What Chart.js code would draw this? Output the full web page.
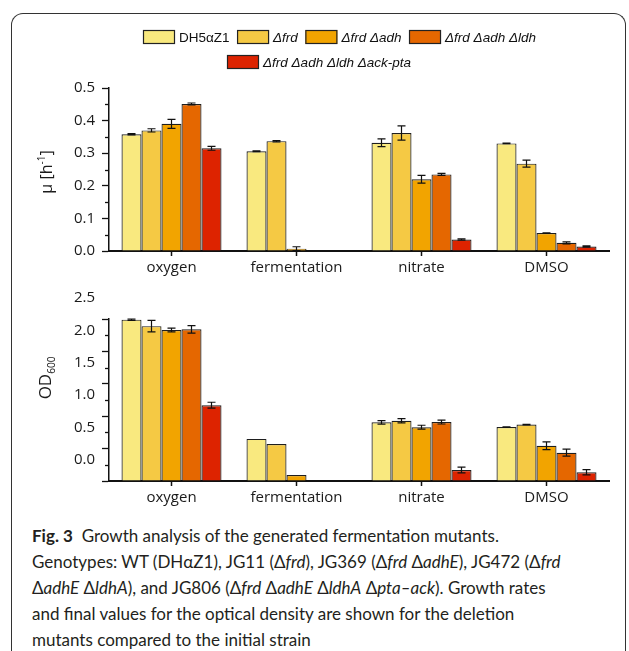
<!DOCTYPE html>
<html><head><meta charset="utf-8">
<script src="https://cdn.jsdelivr.net/npm/chart.js@4.4.0/dist/chart.umd.min.js"></script>
<style>
html,body{margin:0;padding:0;background:#fff;}
body{width:629px;height:651px;position:relative;overflow:hidden;}
#frame{position:absolute;left:11px;top:13px;width:613px;height:700px;border:1.3px solid #333;border-bottom:none;border-radius:12px 12px 0 0;}
#c1{position:absolute;left:0;top:0;}
#c2{position:absolute;left:0;top:285px;}
#caption{position:absolute;left:32px;top:523px;font-family:Lato,sans-serif;font-size:17px;line-height:26px;color:#231f20;white-space:nowrap;}
#caption b{font-weight:bold;}
</style></head>
<body>
<div id="frame"></div>
<canvas id="c1" width="629" height="285"></canvas>
<canvas id="c2" width="629" height="230"></canvas>
<div id="caption"><b>Fig. 3</b>&nbsp; Growth analysis of the generated fermentation mutants.<br>Genotypes: WT (DHαZ1), JG11 (Δ<i>frd</i>), JG369 (Δ<i>frd</i> Δ<i>adhE</i>), JG472 (Δ<i>frd</i><br>Δ<i>adhE</i> Δ<i>ldhA</i>), and JG806 (Δ<i>frd</i> Δ<i>adhE</i> Δ<i>ldhA</i> Δ<i>pta–ack</i>). Growth rates<br>and final values for the optical density are shown for the deletion<br>mutants compared to the initial strain</div>
<script>
// ---- data ----
const categories = ['oxygen', 'fermentation', 'nitrate', 'DMSO'];
const strains = ['DH5αZ1', 'Δfrd', 'Δfrd Δadh', 'Δfrd Δadh Δldh', 'Δfrd Δadh Δldh Δack-pta'];
const strainColors = ['#F9E97F', '#F5C944', '#F2A400', '#E56700', '#DD2300'];

// growth rate mu [h-1]
const muWT   = [0.358, 0.306, 0.332, 0.330];
const muFrd  = [0.370, 0.337, 0.362, 0.268];
const muAdh  = [0.390, 0.007, 0.220, 0.055];
const muLdh  = [0.451, null,  0.235, 0.025];
const muAck  = [0.315, null,  0.035, 0.014];
const muWTErr  = [0.002, 0.001, 0.012, 0.001];
const muFrdErr = [0.005, 0.002, 0.022, 0.011];
const muAdhErr = [0.014, 0.006, 0.012, 0.001];
const muLdhErr = [0.003, null,  0.003, 0.003];
const muAckErr = [0.006, null,  0.002, 0.002];

// final OD600
const odWT   = [2.49, 0.65, 0.905, 0.833];
const odFrd  = [2.39, 0.57, 0.93,  0.87];
const odAdh  = [2.33, 0.093, 0.83, 0.545];
const odLdh  = [2.34, null, 0.91,  0.437];
const odAck  = [1.17, null, 0.17,  0.134];
const odWTErr  = [0.01, 0, 0.028, 0.004];
const odFrdErr = [0.09, 0, 0.033, 0.004];
const odAdhErr = [0.03, 0, 0.03,  0.06];
const odLdhErr = [0.057, null, 0.03, 0.054];
const odAckErr = [0.045, null, 0.044, 0.04];

// axis ticks
const muTicks = [0.0, 0.1, 0.2, 0.3, 0.4, 0.5];
const muTickLabels = ['0.0', '0.1', '0.2', '0.3', '0.4', '0.5'];
const muMinorTicks = [0.05, 0.15, 0.25, 0.35, 0.45];
const odTicks = [0.0, 0.5, 1.0, 1.5, 2.0, 2.5];
const odTickLabels = ['0.0', '0.5', '1.0', '1.5', '2.0', '2.5'];
const odMinorTicks = [0.25, 0.75, 1.25, 1.75, 2.25];

// ---- plugins ----
const errorBarPlugin = {
  id: 'errorBars',
  afterDatasetsDraw(chart) {
    const ctx = chart.ctx, ys = chart.scales.y;
    ctx.save();
    ctx.strokeStyle = '#111';
    ctx.lineWidth = 1.2;
    chart.data.datasets.forEach((ds, i) => {
      const meta = chart.getDatasetMeta(i);
      meta.data.forEach((el, j) => {
        const v = ds.data[j], e = ds.errors[j];
        if (v == null || !e) return;
        const x = el.x;
        const yt = ys.getPixelForValue(v + e), yb = ys.getPixelForValue(v - e);
        ctx.beginPath();
        ctx.moveTo(x, yt); ctx.lineTo(x, yb);
        ctx.moveTo(x - 4, yt); ctx.lineTo(x + 4, yt);
        ctx.moveTo(x - 4, yb); ctx.lineTo(x + 4, yb);
        ctx.stroke();
      });
    });
    ctx.restore();
  }
};
function minorTickPlugin(minors) {
  return {
    id: 'minorTicks',
    afterDraw(chart) {
      const ctx = chart.ctx, ys = chart.scales.y, x0 = chart.chartArea.left;
      ctx.save();
      ctx.strokeStyle = '#111';
      ctx.lineWidth = 1.3;
      minors.forEach(v => {
        const y = Math.round(ys.getPixelForValue(v)) + 0.5;
        ctx.beginPath(); ctx.moveTo(x0 - 4, y); ctx.lineTo(x0, y); ctx.stroke();
      });
      ctx.restore();
    }
  };
}
function titlePlugin(parts, cx, cy) {
  return {
    id: 'yTitle',
    afterDraw(chart) {
      const ctx = chart.ctx;
      ctx.save();
      ctx.translate(cx, cy);
      ctx.rotate(-Math.PI / 2);
      ctx.fillStyle = '#1a1a1a';
      ctx.textBaseline = 'alphabetic';
      let total = 0;
      parts.forEach(p => { ctx.font = p.size + 'px "Open Sans"'; p.w = ctx.measureText(p.t).width; total += p.w; });
      let x = -total / 2;
      parts.forEach(p => {
        ctx.font = p.size + 'px "Open Sans"';
        ctx.fillText(p.t, x, 6 + (p.dy || 0));
        x += p.w;
      });
      ctx.restore();
    }
  };
}
const legendPlugin = {
  id: 'customLegend',
  afterDraw(chart) {
    const ctx = chart.ctx;
    const rows = [{ y: 37, x: 143, items: [0, 1, 2, 3] }, { y: 62, x: 227, items: [4] }];
    ctx.save();
    ctx.textBaseline = 'middle';
    rows.forEach(r => {
      let x = r.x;
      r.items.forEach(i => {
        const ds = chart.data.datasets[i];
        ctx.fillStyle = ds.backgroundColor;
        ctx.fillRect(x, r.y - 7, 32, 14);
        ctx.strokeStyle = '#222';
        ctx.lineWidth = 1.2;
        ctx.strokeRect(x + 0.5, r.y - 7 + 0.5, 31, 13);
        x += 36;
        ctx.font = (i === 0 ? '' : 'italic ') + '13.5px "Liberation Sans"';
        ctx.fillStyle = '#111';
        ctx.fillText(ds.label, x, r.y + 1);
        x += ctx.measureText(ds.label).width + 7.5;
      });
    });
    ctx.restore();
  }
};

function makeChart(id, series, errs, yMax, majors, majorLabels, minors, topPad, labelOffset, extraPlugins) {
  return new Chart(document.getElementById(id), {
    type: 'bar',
    data: {
      labels: categories,
      datasets: series.map((d, i) => ({
        label: strains[i], data: d, errors: errs[i],
        backgroundColor: strainColors[i], borderColor: '#1e1e1e', borderWidth: 1.2,
        borderSkipped: 'start', categoryPercentage: 0.8, barPercentage: 1.0
      }))
    },
    options: {
      responsive: false, animation: false, devicePixelRatio: 1,
      layout: { padding: { top: topPad, right: 20, left: 0, bottom: 0 } },
      plugins: { legend: { display: false }, tooltip: { enabled: false } },
      scales: {
        x: {
          grid: { offset: false, drawOnChartArea: false, tickLength: 5, tickColor: '#111', tickWidth: 1.5 },
          border: { color: '#111', width: 2 },
          ticks: { font: { family: 'Open Sans', size: 15 }, color: '#1a1a1a', padding: 3, maxRotation: 0 },
          afterFit: s => { s.height = 34; }
        },
        y: {
          min: 0, max: yMax,
          afterBuildTicks: s => { s.ticks = majors.map(v => ({ value: v })); },
          grid: { drawOnChartArea: false, tickLength: 7, tickColor: '#111', tickWidth: 1.3 },
          border: { color: '#111', width: 1.5 },
          ticks: { font: { family: 'Open Sans', size: 15 }, color: '#1a1a1a', padding: 7, labelOffset: labelOffset,
                   callback: (v, idx) => majorLabels[idx] },
          afterFit: s => { s.width = 109; }
        }
      }
    },
    plugins: [errorBarPlugin, minorTickPlugin(minors)].concat(extraPlugins)
  });
}

makeChart('c1', [muWT, muFrd, muAdh, muLdh, muAck], [muWTErr, muFrdErr, muAdhErr, muLdhErr, muAckErr],
  0.5, muTicks, muTickLabels, muMinorTicks, 88, 0,
  [legendPlugin, titlePlugin([{ t: 'μ [h', size: 16 }, { t: '-1', size: 10, dy: -7 }, { t: ']', size: 16 }], 46, 172)]);

makeChart('c2', [odWT, odFrd, odAdh, odLdh, odAck], [odWTErr, odFrdErr, odAdhErr, odLdhErr, odAckErr],
  2.5, odTicks, odTickLabels, odMinorTicks, 34, -21,
  [titlePlugin([{ t: 'OD', size: 17 }, { t: '600', size: 10, dy: 4 }], 45, 93)]);
</script>
</body></html>
